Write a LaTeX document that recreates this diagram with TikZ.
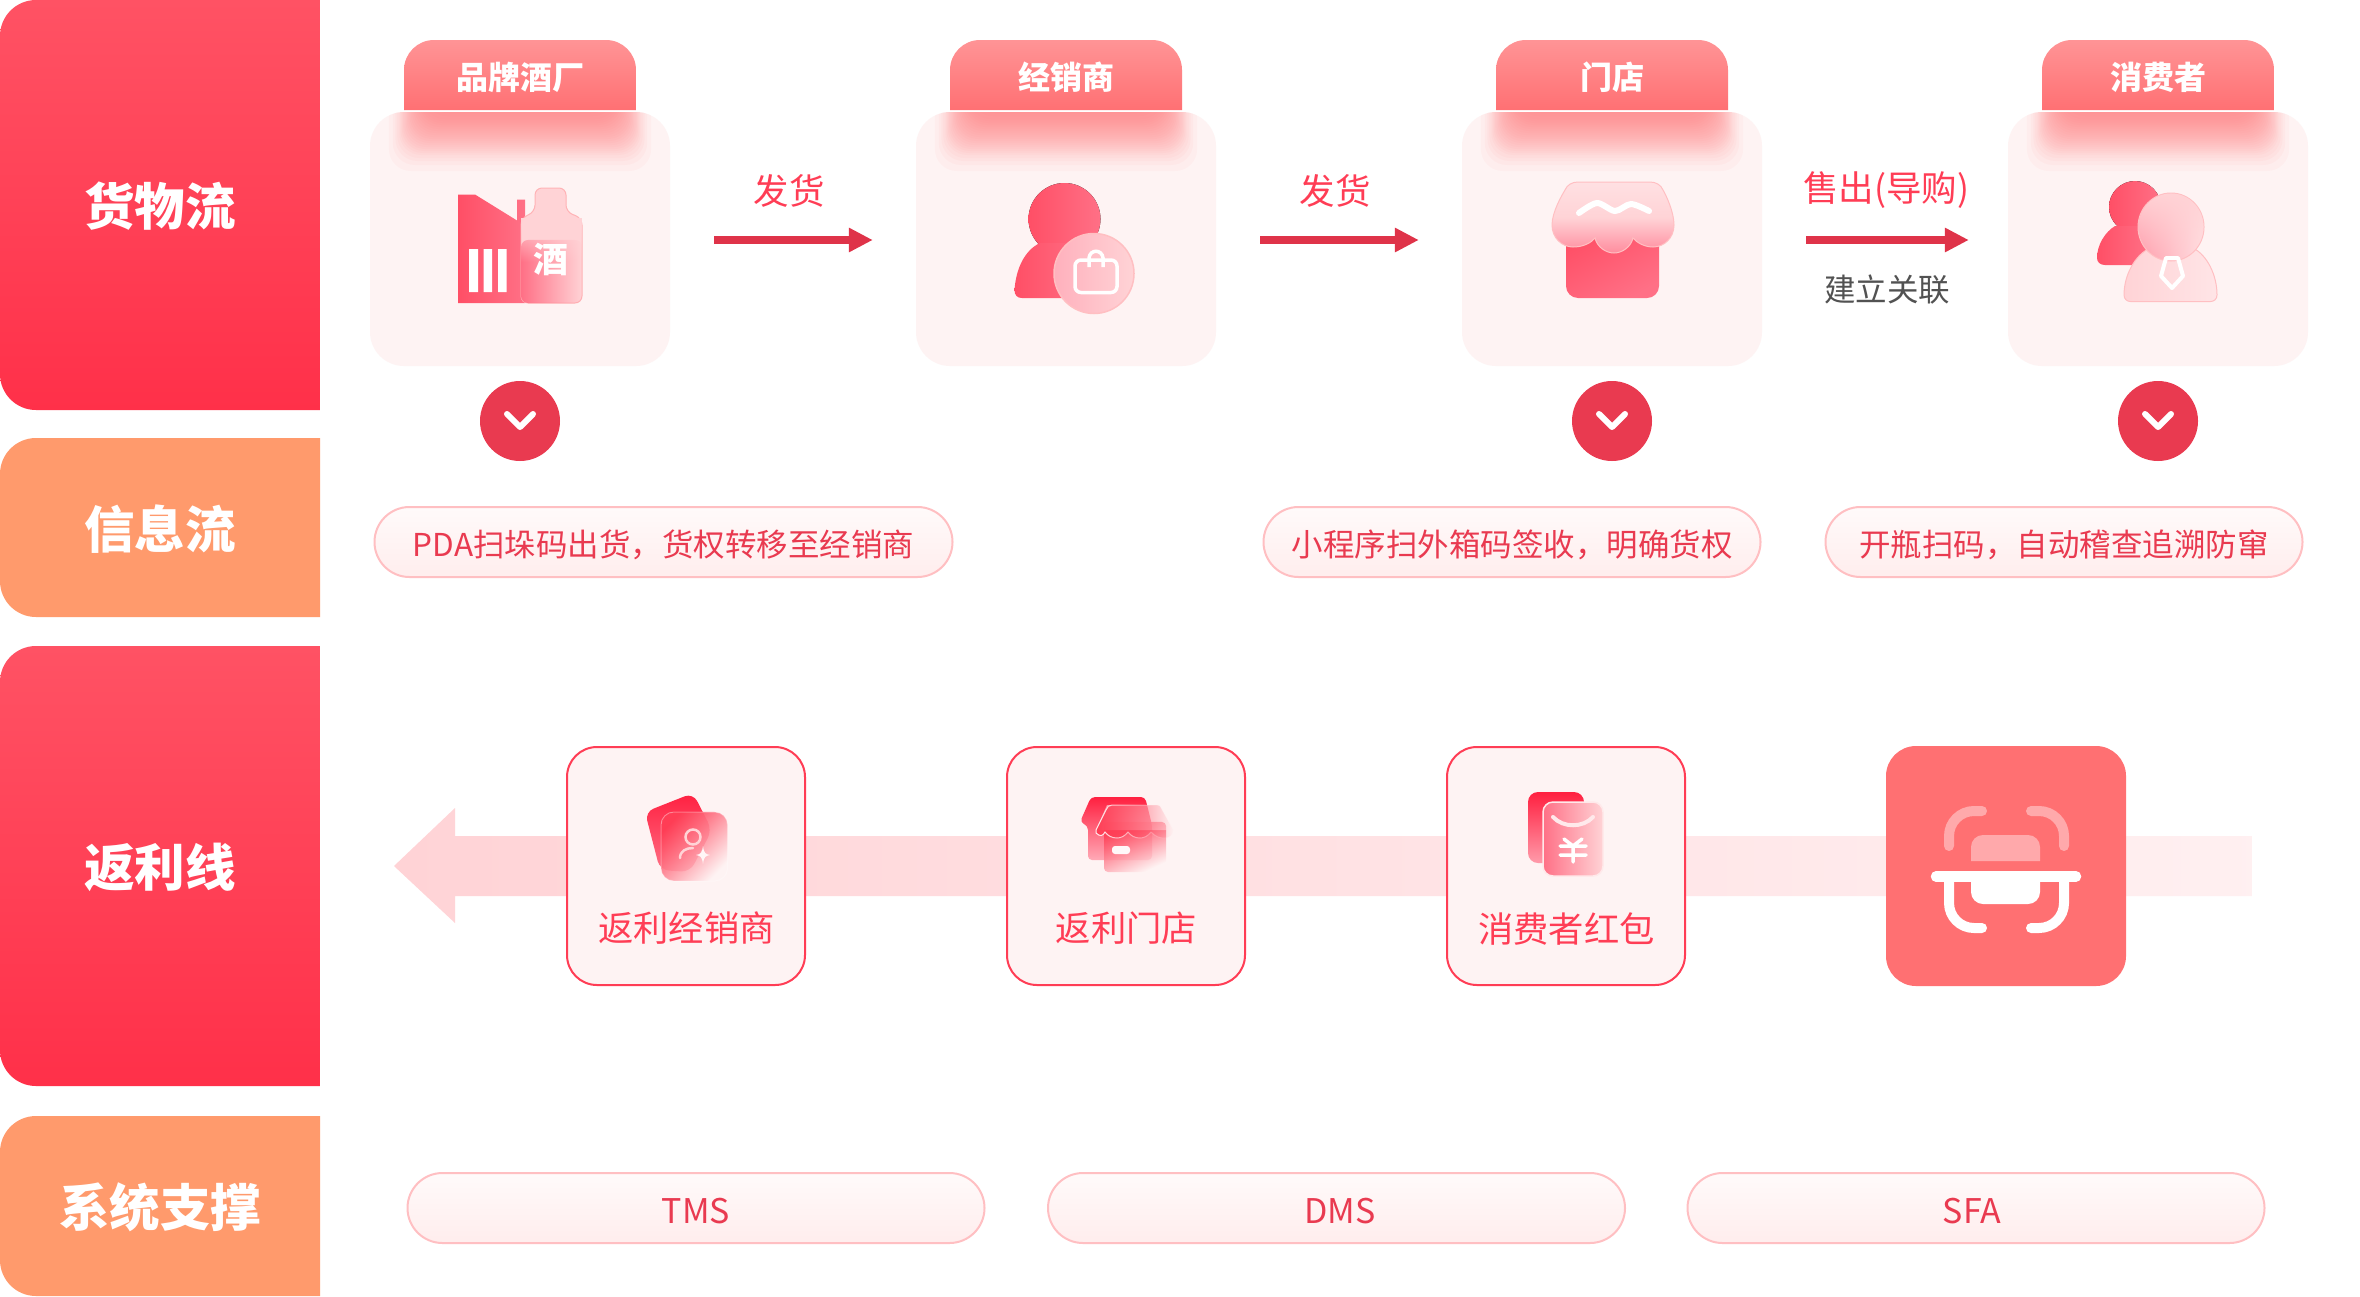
\documentclass[tikz,border=0pt]{standalone}
\usepackage{fontspec}
\setmainfont{Noto Sans CJK SC}
\usetikzlibrary{arrows.meta,fadings,shapes.geometric}
\definecolor{cardbg}{HTML}{FEF3F3}
\definecolor{tabtop}{HTML}{FF9496}
\definecolor{tabbot}{HTML}{FF7073}
\definecolor{barTop}{HTML}{FF5264}
\definecolor{barBot}{HTML}{FF3049}
\definecolor{orangeBar}{HTML}{FF9A6C}
\definecolor{deep}{HTML}{E93A50}
\definecolor{arrowred}{HTML}{DF3349}
\definecolor{vivid}{HTML}{FF3D55}
\definecolor{pillline}{HTML}{FFBFC2}
\definecolor{pink}{HTML}{FFD3D6}
\definecolor{iconA}{HTML}{FF4F66}
\definecolor{iconB}{HTML}{FF7086}
\definecolor{iconTop}{HTML}{FF2040}
\definecolor{boxred}{HTML}{FF7072}
\definecolor{lightbr}{HTML}{FFA9AB}
\tikzset{
  sidelabel/.style={text=white,inner sep=0pt,font=\fontsize{50.5}{56}\selectfont\bfseries},
  tablabel/.style={text=white,inner sep=0pt,font=\fontsize{32}{36}\selectfont\bfseries},
  cardnode/.style={rectangle,rounded corners=34pt,fill=cardbg,minimum width=300pt,minimum height=254pt,inner sep=0pt},
  downdot/.style={circle,fill=deep,minimum size=80pt,inner sep=0pt},
  chev/.style={draw=white,line width=6pt,line cap=round,line join=round},
  pillnode/.style={rectangle,rounded corners=35pt,draw=pillline,line width=2pt,top color=white!60!cardbg,bottom color=red!7!white,inner sep=0pt,minimum height=70pt,text=deep,text height=28pt,text depth=0pt,font=\fontsize{31.5}{36}\selectfont},
  syspill/.style={pillnode,minimum width=577pt,text height=31pt,font=\fontsize{34}{38}\selectfont},
  flow/.style={draw=arrowred,line width=8pt,-{Triangle[length=24pt,width=23pt]}},
  arrowlabel/.style={text=vivid,inner sep=0pt,font=\fontsize{35.5}{40}\selectfont},
  graylabel/.style={text=black!68,inner sep=0pt,font=\fontsize{31.5}{36}\selectfont},
  rebox/.style={rectangle,rounded corners=30pt,draw=vivid,line width=2pt,fill=cardbg,minimum width=238pt,minimum height=238pt,inner sep=0pt},
  boxlabel/.style={text=vivid,inner sep=0pt,font=\fontsize{35.3}{40}\selectfont},
  iconfill/.style={left color=iconA,right color=iconB},
}
\newcommand{\flowcard}[3]{%
  \node[cardnode] (#1) at (#2,239) {};
  \begin{scope}
    \clip[rounded corners=34pt] (#2-150,112) rectangle (#2+150,366);
    \foreach \d in {34,28,24,21,18,16,14,12,10,8,6,4,2,0,-2,-4,-6,-8,-10,-12,-14,-16,-18,-21,-24,-28,-34}
      \fill[tabbot,opacity=.044,rounded corners=22pt] ({#2-109-0.65*\d},50) rectangle ({#2+109+0.65*\d},{137+\d});
  \end{scope}
  \path[top color=tabtop,bottom color=tabbot] (#2-116,110) [rounded corners=30pt] -- (#2-116,40) -- (#2+116,40) [sharp corners] -- (#2+116,110) -- cycle;
  \node[tablabel] (#1t) at (#2,77) {#3};
}
\newcommand{\sidebar}[5]{%
  \path[#4] (320,#2) [rounded corners=36pt] -- (0,#2) -- (0,#3) [sharp corners] -- (320,#3) -- cycle;
  \node[sidelabel] (#1) at (160,{(#2+#3)/2+1.5}) {#5};
}
\begin{document}
\begin{tikzpicture}[x=1pt,y=-1pt]
\useasboundingbox (0,0) rectangle (2360,1296);
\fill[white] (0,0) rectangle (2360,1296);
% side bars
\sidebar{s1}{0}{410}{top color=barTop,bottom color=barBot}{货物流}
\sidebar{s2}{438}{617}{fill=orangeBar}{信息流}
\sidebar{s3}{646}{1086}{top color=barTop,bottom color=barBot}{返利线}
\sidebar{s4}{1116}{1296}{fill=orangeBar}{系统支撑}
% cards
\flowcard{c1}{520}{品牌酒厂}
\flowcard{c2}{1066}{经销商}
\flowcard{c3}{1612}{门店}
\flowcard{c4}{2158}{消费者}
% arrows
\draw[flow] ([xshift=44pt,yshift=-1pt]c1.east) -- ([xshift=-43pt,yshift=-1pt]c2.west);
\draw[flow] ([xshift=44pt,yshift=-1pt]c2.east) -- ([xshift=-43pt,yshift=-1pt]c3.west);
\draw[flow] ([xshift=44pt,yshift=-1pt]c3.east) -- ([xshift=-39pt,yshift=-1pt]c4.west);
\node[arrowlabel] (l1) at (789,190.5) {发货};
\node[arrowlabel] (l2) at (1335,190.5) {发货};
\node[arrowlabel] (l3) at (1886,190.5) {售出(导购)};
\node[graylabel] (l4) at (1887,290) {建立关联};
% down circles
\foreach \n/\x in {d1/520,d3/1612,d4/2158}{
  \node[downdot] (\n) at (\x,421) {};
  \draw[chev] (\x-13,414) -- (\x,427) -- (\x+13,414);
}
% pills
\node[pillnode,minimum width=578pt] (p1) at (663.5,542) {PDA扫垛码出货，货权转移至经销商};
\node[pillnode,minimum width=497pt] (p2) at (1512,542) {小程序扫外箱码签收，明确货权};
\node[pillnode,minimum width=477pt] (p3) at (2064,542) {开瓶扫码，自动稽查追溯防窜};
% factory icon
\path[left color=iconA,right color=iconB] (458,194.5) -- (475,194.5) -- (517,220.5) -- (517,199.6) -- (525,199.6) -- (525,303) -- (458,303) -- cycle;
\fill[white] (469,249) rectangle (478,292) (483.5,249) rectangle (492,292) (498,249) rectangle (506.5,292);
\path[fill=pink,draw=pink!85!red,line width=1pt,rounded corners=7pt] (535,188) -- (566,188) -- (566,212) -- (582,218) -- (582,303) -- (521,303) -- (521,218) -- (535,212) -- cycle;
\path[fill=iconB,path fading=east,rounded corners=7pt] (521,240) -- (582,240) -- (582,303) -- (521,303) -- cycle;
\path[fill=pink,path fading=south] (521,218) rectangle (582,262);
\node[text=white,inner sep=0pt,font=\fontsize{35}{36}\selectfont\bfseries] (jiu) at (551,259) {酒};
% dealer icon
\fill[iconfill] (1064.5,219) ellipse [x radius=36,y radius=36];
\path[iconfill] (1014.5,290) .. controls (1016,268) and (1025,250) .. (1040,243) -- (1090,243) -- (1090,298) -- (1022,298) .. controls (1017,298) and (1014.5,295) .. (1014.5,290) -- cycle;
\fill[cardbg,opacity=.5] (1094,273.5) circle (40);
\path[draw=pillline,line width=1.5pt,shading angle=135,left color=iconB!55!white,right color=pink] (1094,273.5) circle (40);
\draw[white,line width=3.5pt,rounded corners=6pt] (1075,260) rectangle (1117,292.5);
\draw[white,line width=3.5pt] (1089,267) -- (1089,258) .. controls (1090,249) and (1102,249) .. (1103,258) -- (1103,267);
% store icon
\path[rounded corners=12pt,left color=iconA,right color=iconB,shading angle=30] (1566,230) rectangle (1659,298);
\path[draw=pillline,line width=1pt,top color=pink!70!white,bottom color=iconB!80!white,middle color=pink]
 (1650,182) .. controls (1656,182) and (1661,185) .. (1663,190) .. controls (1666,195) and (1674,212) .. (1674,225)
 .. controls (1674,238) and (1664,247) .. (1653,247) .. controls (1645,247) and (1637,243) .. (1633,238)
 .. controls (1631,247) and (1622,253) .. (1614,253) .. controls (1606,253) and (1597,247) .. (1595,238)
 .. controls (1591,243) and (1583,247) .. (1573,247) .. controls (1562,247) and (1552,238) .. (1552,225)
 .. controls (1552,212) and (1562,195) .. (1565,190) .. controls (1567,185) and (1572,182) .. (1578,182) -- cycle;
\draw[white,line width=6pt,line cap=round] plot[smooth] coordinates {(1579,213) (1597,203) (1615,211) (1631,204) (1649,211)};
% consumer icon
\fill[iconfill] (2135,207) ellipse [x radius=26,y radius=26];
\path[iconfill] (2097,258) .. controls (2097,245) and (2105,232) .. (2115,226) -- (2150,226) -- (2150,265) -- (2105,265) .. controls (2100,265) and (2097,262) .. (2097,258) -- cycle;
\path[left color=pink,right color=pink!60!white,draw=pillline,line width=1pt] (2124,295) .. controls (2124,275) and (2135,255) .. (2150,248) -- (2193,248) .. controls (2207,255) and (2217,275) .. (2217,295) .. controls (2217,299) and (2214,301.6) .. (2210,301.6) -- (2131,301.6) .. controls (2127,301.6) and (2124,299) .. (2124,295) -- cycle;
\path[left color=iconB!70!white,middle color=iconB!60!white,right color=pink!70!white,draw=pillline,line width=1pt] (2171,227) ellipse [x radius=33,y radius=34];
\fill[pink,path fading=south] (2171,227) ellipse [x radius=32.5,y radius=33.5];
\draw[white,line width=4pt,line join=round] (2166,258) -- (2178,258) -- (2183,276) -- (2172,288) -- (2161,276) -- cycle;
% rebate band
\path[left color=pink,right color=pink!35!white] (394,866) -- (455,808) -- (455,836) -- (2252,836) -- (2252,896) -- (455,896) -- (455,923) -- cycle;
% rebate boxes
\node[rebox] (b1) at (686,866) {};
\node[rebox] (b2) at (1126,866) {};
\node[rebox] (b3) at (1566,866) {};
\node[rectangle,rounded corners=30pt,fill=boxred,minimum width=240pt,minimum height=240pt,inner sep=0pt] (b4) at (2006,866) {};
\node[boxlabel] (bl1) at (686.5,928.5) {返利经销商};
\node[boxlabel] (bl2) at (1126.5,928.5) {返利门店};
\node[boxlabel] (bl3) at (1566.5,928.5) {消费者红包};
% icon a
\path[top color=iconTop,bottom color=iconB,rounded corners=9pt] (645,812) -- (693,793) -- (712,830) -- (690,872) -- (660,870) -- cycle;
\fill[cardbg,opacity=.75,rounded corners=13pt] (661,812) rectangle (727.6,881);
\path[fill=vivid,path fading=south,fading angle=45,rounded corners=13pt] (661,812) rectangle (727.6,881);
\draw[white,opacity=.3,line width=1pt,rounded corners=13pt] (661,812) rectangle (727.6,881);
\draw[pink,line width=2.5pt] (693,837) circle (7.5);
\draw[pink,line width=2.5pt,line cap=round] (680,858) .. controls (680,851) and (686,848) .. (693,848);
\fill[white!80!pink] (703,846) .. controls (704,853) and (705,854) .. (710,855) .. controls (705,856) and (704,857) .. (703,864) .. controls (702,857) and (701,856) .. (696,855) .. controls (701,854) and (702,853) .. (703,846) -- cycle;
% icon b
\path[top color=iconTop,bottom color=iconB!60!white,rounded corners=4pt] (1091,797) -- (1145,797) -- (1152,825) -- (1152,860) -- (1088,860) -- (1088,826) -- (1080,822) -- cycle;
\fill[cardbg,opacity=.75] (1104,830) rectangle (1166,872);
\path[fill=vivid,path fading=south,fading angle=30,rounded corners=4pt] (1104,822) rectangle (1166,872);
\path[fill=cardbg,opacity=.5] (1107,805) -- (1161,805) -- (1173,830) -- (1096,830) -- cycle;
\path[fill=vivid,path fading=east,draw=white!60!pink,line width=1pt] (1112,805) -- (1156,805) .. controls (1160,805) and (1161,807) .. (1162,810) -- (1173,830) .. controls (1173,835) and (1169,838) .. (1164,838) .. controls (1159,838) and (1155,836) .. (1151,832) .. controls (1148,836) and (1144,838) .. (1140,838) .. controls (1135,838) and (1131,836) .. (1128,832) .. controls (1125,836) and (1121,838) .. (1117,838) .. controls (1112,838) and (1108,836) .. (1105,832) .. controls (1103,836) and (1100,837) .. (1096,833) -- (1096,830) -- (1106,810) .. controls (1107,807) and (1109,805) .. (1112,805) -- cycle;
\fill[white!85!pink,rounded corners=3pt] (1112,846) rectangle (1130,854);
% icon c
\path[top color=iconTop,bottom color=iconB!70!white,rounded corners=10pt] (1528,792) rectangle (1584,863);
\path[left color=iconB,right color=pink,draw=white!50!pink,line width=1.5pt,rounded corners=10pt] (1543,802) rectangle (1603,876);
\draw[white!50!pink,line width=4pt,line cap=round] (1553,817) .. controls (1563,828) and (1583,828) .. (1593,817);
\draw[white,line width=3.5pt,line cap=round] (1564,839) -- (1573,846) -- (1582,839) (1560,846) -- (1586,846) (1560,855) -- (1586,855) (1573,846) -- (1573,862);
% scan icon
\path[fill=lightbr,rounded corners=12pt] (1971,861) -- (1971,835) -- (2040,835) [sharp corners] -- (2040,861) -- cycle;
\draw[lightbr,line width=10pt,line cap=round] (1982,811) -- (1974,811) arc[start angle=270,end angle=180,radius=25] -- (1949,846);
\draw[lightbr,line width=10pt,line cap=round] (2031,811) -- (2039,811) arc[start angle=-90,end angle=0,radius=25] -- (2064,846);
\draw[white,line width=10.5pt,line cap=round] (1936,876.5) -- (2076,876.5);
\path[fill=white,rounded corners=12pt] (1971,880) -- (1971,904) -- (2040,904) [sharp corners] -- (2040,880) -- cycle;
\draw[white,line width=10pt,line cap=round] (1949,880) -- (1949,903) arc[start angle=180,end angle=90,radius=25] -- (1982,928);
\draw[white,line width=10pt,line cap=round] (2064,880) -- (2064,903) arc[start angle=0,end angle=90,radius=25] -- (2031,928);
% system pills
\node[syspill] (t1) at (696,1208) {TMS};
\node[syspill] (t2) at (1336.5,1208) {\hspace*{7pt}DMS};
\node[syspill] (t3) at (1976,1208) {SFA\hspace*{8pt}};
\end{tikzpicture}
\end{document}
